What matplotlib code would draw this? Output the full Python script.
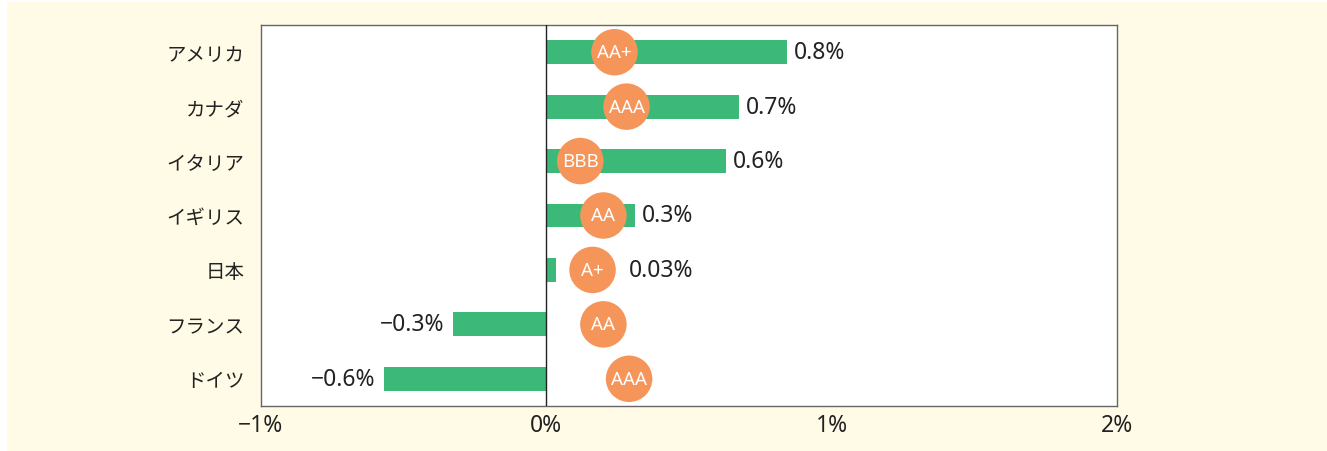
import matplotlib
matplotlib.use("Agg")
import matplotlib.pyplot as plt
from matplotlib.patches import Rectangle

plt.rcParams['font.family'] = ['Noto Sans', 'Noto Sans CJK JP', 'DejaVu Sans']

countries = ["アメリカ", "カナダ", "イタリア", "イギリス", "日本", "フランス", "ドイツ"]
values = [0.843, 0.674, 0.629, 0.309, 0.035, -0.327, -0.569]
value_labels = ["0.8%", "0.7%", "0.6%", "0.3%", "0.03%", "−0.3%", "−0.6%"]
ratings = ["AA+", "AAA", "BBB", "AA", "A+", "AA", "AAA"]
rating_pos = [0.239, 0.281, 0.119, 0.200, 0.162, 0.200, 0.290]
xticks = [-1, 0, 1, 2]
xtick_labels = ["−1%", "0%", "1%", "2%"]

W, H = 1327, 452
fig = plt.figure(figsize=(W / 100, H / 100), dpi=100, facecolor="white")
fig.patches.append(Rectangle((7 / W, 0), 1 - 7 / W, 1 - 3 / H, transform=fig.transFigure,
                             facecolor="#fffbe6", edgecolor="none", zorder=-10))
ax = fig.add_axes([261 / W, 1 - 407 / H, (1117 - 261) / W, (407 - 26) / H])
ax.set_facecolor("white")

green = "#3cb878"
orange = "#f5955a"
ypos = list(range(len(countries)))
num_fs = 16.5

ax.barh(ypos, values, height=0.44, color=green, zorder=2)
ax.axvline(0, color="#222222", lw=1.0, zorder=3)
ax.scatter(rating_pos, ypos, s=1120, color=orange, edgecolors="none", zorder=4)
for y, x, r in zip(ypos, rating_pos, ratings):
    ax.text(x, y, r, ha="center", va="center", color="white", fontsize=13.5, zorder=5)

radius = 23 / 284.7
for y, v, lab, rp in zip(ypos, values, value_labels, rating_pos):
    if v >= 0:
        if rp + radius > v:
            x = rp + radius + 0.045
        else:
            x = v + 0.025
        ax.text(x, y, lab, ha="left", va="center", fontsize=num_fs, color="#222222", zorder=5)
    else:
        ax.text(v - 0.03, y, lab, ha="right", va="center", fontsize=num_fs, color="#222222", zorder=5)

ax.set_xlim(-1, 2)
ax.set_ylim(len(countries) - 0.5, -0.5)
ax.set_xticks(xticks)
ax.set_xticklabels(xtick_labels)
ax.set_yticks(ypos)
ax.set_yticklabels(countries)
ax.tick_params(axis="both", length=0, labelcolor="#222222")
ax.tick_params(axis="y", pad=12, labelsize=14)
ax.tick_params(axis="x", pad=5, labelsize=num_fs)
for s in ax.spines.values():
    s.set_color("#666666")
    s.set_linewidth(1.0)

fig.savefig("out.png", dpi=100, facecolor=fig.get_facecolor())
